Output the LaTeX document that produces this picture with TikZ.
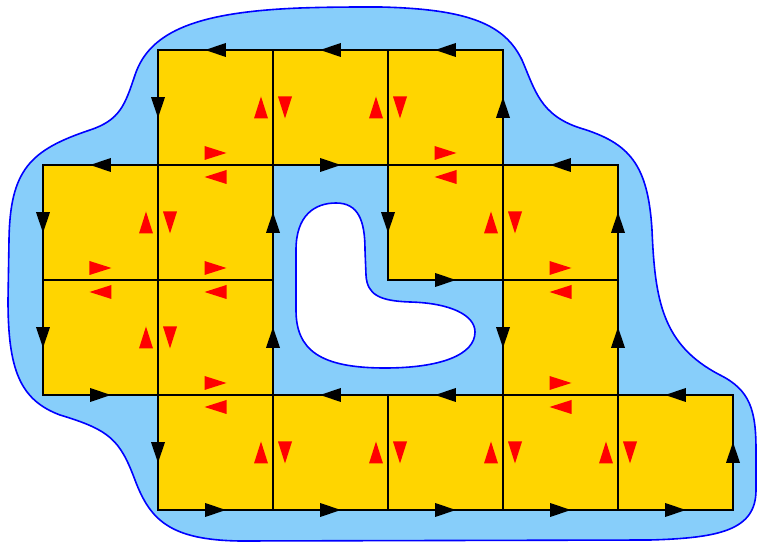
\documentclass[tikz,border=0pt]{standalone}
\usetikzlibrary{decorations.markings}
\definecolor{pond}{RGB}{135,206,250}
\definecolor{gold1}{RGB}{255,213,0}

\begin{document}
\begin{tikzpicture}[x=86.25pt,y=86.25pt,line cap=rect,
  tilebox/.style={fill=gold1},
  rim/.style={draw=blue,line width=1.2pt},
  bedge/.style={draw=black,line width=1.4pt,postaction={decorate},
    decoration={markings,mark=at position 0.5 with
      {\fill[black] (7.75pt,0) -- (-7.75pt,5.25pt) -- (-7.75pt,-5.25pt) -- cycle;}}},
  iedge/.style={draw=black,line width=1.4pt,postaction={decorate},
    decoration={markings,mark=at position 0.5 with
      {\fill[red] (8.25pt,9pt) -- (-8.25pt,14.25pt) -- (-8.25pt,3.75pt) -- cycle;
       \fill[red] (-8.25pt,-9pt) -- (8.25pt,-14.25pt) -- (8.25pt,-3.75pt) -- cycle;}}}]
  \useasboundingbox (-43/115,-32/115) rectangle (714/115,510/115);
  % --- region and its hole ---
  \begin{scope}[shift={(-43/115,510/115)},x=0.75pt,y=-0.75pt]
    \draw[rim,fill=pond] (380,7) .. controls (470,9) and (505,25) .. (522,60)
      .. controls (535,90) and (540,115) .. (580,128)
      .. controls (630,143) and (648,165) .. (652,230)
      .. controls (655,300) and (662,345) .. (720,375)
      .. controls (750,390) and (756,410) .. (756,450) -- (756,490)
      .. controls (756,530) and (720,538) .. (650,540) -- (240,541)
      .. controls (170,540) and (150,520) .. (135,480)
      .. controls (120,440) and (110,430) .. (60,415)
      .. controls (20,400) and (8,370) .. (8,300) -- (9,240)
      .. controls (10,170) and (30,150) .. (90,130)
      .. controls (120,120) and (125,105) .. (135,75)
      .. controls (150,30) and (200,12) .. (300,8)
      .. controls (330,7) and (350,7) .. (380,7) -- cycle;
    \draw[rim,fill=white] (296,250) .. controls (296,215) and (315,203) .. (336,203)
      .. controls (358,203) and (365,220) .. (365,250) -- (366,275)
      .. controls (367,295) and (380,301) .. (410,302)
      .. controls (450,303) and (475,315) .. (475,332)
      .. controls (475,355) and (440,368) .. (385,368)
      .. controls (320,368) and (296,350) .. (296,310) -- cycle;
  \end{scope}
  % --- grid points ---
  \foreach \i in {0,...,6}
    \foreach \j in {0,...,4}
      \coordinate (p\i\j) at (\i,\j);
  % --- squares ---
  \foreach \i/\j in {1/3,2/3,3/3,0/2,1/2,3/2,4/2,0/1,1/1,4/1,1/0,2/0,3/0,4/0,5/0}
    \fill[tilebox] (p\i\j) rectangle ++(1,1);
  % --- inner edges: cancelling pairs ---
  \foreach \a/\b in {23/24,33/34,12/13,42/43,11/12,20/21,30/31,40/41,50/51,
                     13/23,33/43,02/12,12/22,42/52,11/21,41/51}
    \draw[iedge] (p\a) -- (p\b);
  % --- outer boundary ---
  \foreach \a/\b in {44/34,34/24,24/14,14/13,13/03,03/02,02/01,01/11,11/10,
                     10/20,20/30,30/40,40/50,50/60,60/61,61/51,51/52,52/53,
                     53/43,43/44}
    \draw[bedge] (p\a) -- (p\b);
  % --- boundary of the hole ---
  \foreach \a/\b in {23/33,33/32,32/42,42/41,41/31,31/21,21/22,22/23}
    \draw[bedge] (p\a) -- (p\b);
\end{tikzpicture}
\end{document}
